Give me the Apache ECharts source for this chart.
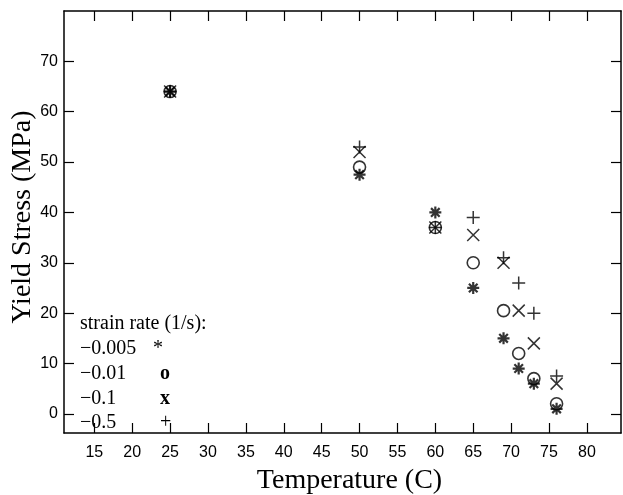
<!DOCTYPE html>
<html>
<head>
<meta charset="utf-8">
<script src="https://cdn.jsdelivr.net/npm/echarts@6/dist/echarts.min.js"></script>
<style>
  html, body { margin: 0; padding: 0; background: #fff; }
  #chart { width: 623px; height: 495px; }
</style>
</head>
<body>
<div id="chart"></div>
<script>
// Yield stress of the polymer vs. test temperature at four strain rates
const temperature = [25, 50, 60, 65, 69, 71, 73, 76];
const rate0005 = [64, 47.5, 40, 25, 15, 9, 6, 1];      // -0.005 1/s
const rate001  = [64, 49, 37, 30, 20.5, 12, 7, 2];     // -0.01 1/s
const rate01   = [64, 52, 37, 35.5, 30, 20.5, 14, 6];  // -0.1 1/s
const rate05   = [64, 53, 37, 39, 31, 26, 20, 7.5];    // -0.5 1/s

const xTicks = [15, 20, 25, 30, 35, 40, 45, 50, 55, 60, 65, 70, 75, 80];
const yTicks = [0, 10, 20, 30, 40, 50, 60, 70];

const legendTitle = 'strain rate (1/s):';
const legendRates = ['\u22120.005', '\u22120.01', '\u22120.1', '\u22120.5'];
const legendMarks = ['*', 'o', 'x', '+'];

const X_MIN = 11, X_MAX = 84.5, Y_MIN = -3.8, Y_MAX = 80;

const pairs = vals => temperature.map((t, i) => [t, vals[i]]);

const SERIF = '"Liberation Serif", "DejaVu Serif", serif';
const SANS = '"Liberation Sans", Arial, sans-serif';

const ASTERISK = 'path://M0,-6L0,6M-6,0L6,0M-4.3,-4.3L4.3,4.3M-4.3,4.3L4.3,-4.3';
const CROSS = 'path://M-5,-5L5,5M-5,5L5,-5';
const PLUS = 'path://M0,-6L0,6M-6,0L6,0';

const tickStyle = { color: '#000', width: 1.2 };

function axisBase(extra) {
  return Object.assign({
    type: 'value',
    axisLine: { show: true, onZero: false, lineStyle: { color: '#000', width: 1.5 } },
    splitLine: { show: false }
  }, extra);
}

const chart = echarts.init(document.getElementById('chart'), null, { renderer: 'canvas' });

const strokeStyle = w => ({ color: 'transparent', borderColor: '#000', borderWidth: w });

const LEGEND_FONT = '20px ' + SERIF;

chart.setOption({
  animation: false,
  backgroundColor: '#fff',
  grid: { left: 64, top: 11, right: 2, bottom: 62, containLabel: false, outerBoundsMode: 'none' },
  xAxis: [
    axisBase({
      min: X_MIN, max: X_MAX, position: 'bottom',
      name: 'Temperature (C)', nameLocation: 'middle', nameGap: 34,
      nameTextStyle: { fontFamily: SERIF, fontSize: 28, color: '#000', padding: [0, 0, 0, 14] },
      axisTick: { show: true, inside: true, length: 10, customValues: xTicks, lineStyle: tickStyle },
      axisLabel: { customValues: xTicks, fontFamily: SANS, fontSize: 16, color: '#000', margin: 12 }
    }),
    axisBase({
      min: X_MIN, max: X_MAX, position: 'top',
      axisTick: { show: true, inside: true, length: 10, customValues: xTicks, lineStyle: tickStyle },
      axisLabel: { show: false, customValues: xTicks }
    })
  ],
  yAxis: [
    axisBase({
      min: Y_MIN, max: Y_MAX, position: 'left',
      name: 'Yield Stress (MPa)', nameLocation: 'middle', nameGap: 27, nameMoveOverlap: false,
      nameTextStyle: { fontFamily: SERIF, fontSize: 28, color: '#000', padding: [0, 0, 0, 10] },
      axisTick: { show: true, inside: true, length: 10, customValues: yTicks, lineStyle: tickStyle },
      axisLabel: { customValues: yTicks, fontFamily: SANS, fontSize: 16, color: '#000', margin: 6 }
    }),
    axisBase({
      min: Y_MIN, max: Y_MAX, position: 'right',
      axisTick: { show: true, inside: true, length: 10, customValues: yTicks, lineStyle: tickStyle },
      axisLabel: { show: false, customValues: yTicks }
    })
  ],
  series: [
    {
      name: legendRates[3], type: 'scatter', data: pairs(rate05),
      symbol: PLUS, symbolSize: 13, itemStyle: strokeStyle(1.5)
    },
    {
      name: legendRates[2], type: 'scatter', data: pairs(rate01),
      symbol: CROSS, symbolSize: 12, itemStyle: strokeStyle(1.5)
    },
    {
      name: legendRates[1], type: 'scatter', data: pairs(rate001),
      symbol: 'circle', symbolSize: 12, itemStyle: strokeStyle(1.6)
    },
    {
      name: legendRates[0], type: 'scatter', data: pairs(rate0005),
      symbol: ASTERISK, symbolSize: 12, itemStyle: strokeStyle(2.2)
    }
  ],
  graphic: [
    {
      type: 'text', left: 80, top: 314,
      style: { text: legendTitle, font: LEGEND_FONT, fill: '#000' }
    }
  ].concat(legendRates.map((r, i) => ({
    type: 'text', left: 80, top: 339 + i * 24.7,
    style: { text: r, font: LEGEND_FONT, fill: '#000' }
  }))).concat(legendMarks.map((m, i) => ({
    type: 'text', left: i === 0 ? 153 : 160, top: 339 + i * 24.7,
    style: { text: m, font: (i === 1 || i === 2 ? 'bold ' : '') + LEGEND_FONT, fill: '#000' }
  })))
});
</script>
</body>
</html>
